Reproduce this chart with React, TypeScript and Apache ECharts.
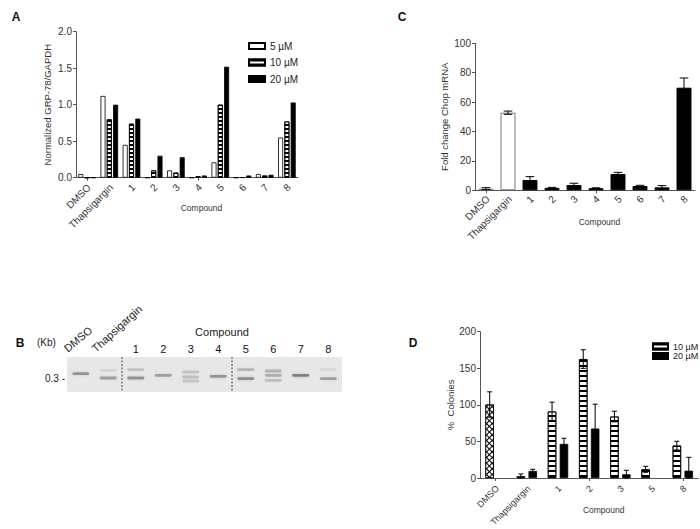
import React, { useEffect, useRef } from "react";
import * as echarts from "echarts";

// ---------- Panel A: GRP-78 / GAPDH ----------
const categoriesA = ["DMSO", "Thapsigargin", "1", "2", "3", "4", "5", "6", "7", "8"];
const grpA5uM = [0.05, 1.12, 0.45, 0, 0.1, 0, 0.21, 0, 0.05, 0.55];
const grpA10uM = [0, 0.8, 0.74, 0.1, 0.07, 0.02, 1.0, 0.005, 0.03, 0.77];
const grpA20uM = [0, 1.0, 0.81, 0.3, 0.28, 0.03, 1.52, 0.03, 0.04, 1.03];
const legendA = ["5 µM", "10 µM", "20 µM"];

// ---------- Panel C: Chop mRNA ----------
const categoriesC = ["DMSO", "Thapsigargin", "1", "2", "3", "4", "5", "6", "7", "8"];
const chopMean = [1.1, 52.8, 7.0, 1.6, 3.6, 1.4, 11.1, 2.9, 2.0, 69.8];
const chopErr = [0.7, 1.1, 2.3, 0.4, 1.2, 0.3, 1.1, 0.5, 1.2, 6.6];

// ---------- Panel D: % Colonies ----------
const categoriesD = ["DMSO", "Thapsigargin", "1", "2", "3", "5", "8"];
const colonies10 = [100.5, 2.3, 90.9, 162.6, 84.0, 11.9, 44.3];
const colonies10Err = [17.3, 3.2, 12.8, 12.7, 7.3, 4.1, 5.9];
const colonies20: (number | null)[] = [null, 9.6, 46.6, 67.6, 5.0, null, 10.0];
const colonies20Err: (number | null)[] = [null, 2.3, 7.7, 33.3, 5.5, null, 18.3];
const legendD = ["10 µM", "20 µM"];

// ---------- Panel B: RT-PCR gel ----------
const gelLanes = ["DMSO", "Thapsigargin", "1", "2", "3", "4", "5", "6", "7", "8"];
// band: lane index, migration distance (arbitrary units from well), intensity
const gelBandLane = [0, 1, 1, 2, 2, 3, 4, 4, 4, 5, 6, 6, 7, 7, 7, 8, 9, 9];
const gelBandPos = [16.6, 13.3, 21.0, 12.6, 21.0, 18.3, 15.0, 20.0, 24.0, 19.3, 12.6, 21.6, 14.0, 18.3, 23.3, 18.3, 12.6, 21.6];
const gelBandIntensity = [0.62, 0.16, 0.55, 0.3, 0.65, 0.55, 0.3, 0.3, 0.25, 0.65, 0.4, 0.7, 0.42, 0.45, 0.35, 0.8, 0.12, 0.55];
const gelDividersBefore = [2, 6];

const FONT = "'Liberation Sans', Arial, Helvetica, sans-serif";
const AXIS = "#555";
const TXT = "#333";

function yAxisDef(grid: number, min: number, max: number, interval: number, name: string, nameGap: number, dec: number) {
  return {
    type: "value", gridIndex: grid, min, max, interval, name,
    nameLocation: "middle", nameGap, nameRotate: 90, nameMoveOverlap: false,
    nameTextStyle: { fontSize: 9.5, color: TXT, fontFamily: FONT },
    axisLine: { show: true, lineStyle: { color: AXIS, width: 1 } },
    axisTick: { show: true, length: 3, lineStyle: { color: AXIS } },
    splitLine: { show: false },
    axisLabel: { fontSize: 10, color: TXT, fontFamily: FONT, margin: 4, formatter: (v: number) => v.toFixed(dec) },
  };
}

function xAxisDef(grid: number, data: string[], nameGap: number) {
  return {
    type: "category", gridIndex: grid, data, name: "Compound",
    nameLocation: "middle", nameGap, nameMoveOverlap: false,
    nameTextStyle: { fontSize: 8.5, color: TXT, fontFamily: FONT, padding: [0, 0, 0, 29] },
    axisLine: { show: true, onZero: false, lineStyle: { color: AXIS, width: 1 } },
    axisTick: { show: true, alignWithLabel: true, length: 3, lineStyle: { color: AXIS } },
    axisLabel: { show: false },
    splitLine: { show: false },
  };
}

// rotated (45°) category labels drawn through the category scale
function categoryLabels(grid: number, cats: string[], dy: number, size: number) {
  return {
    type: "custom", name: "labels" + grid, xAxisIndex: grid, yAxisIndex: grid, z: 6, silent: true,
    encode: { x: 0, y: 1 },
    data: cats.map((_c, i) => [i, 0]),
    renderItem: (p: any, api: any) => {
      const c = api.coord([api.value(0), 0]);
      return {
        type: "text", x: c[0] + 2, y: c[1] + dy, rotation: Math.PI / 4,
        style: { text: cats[p.dataIndex], fontSize: size, fill: TXT, fontFamily: FONT, align: "right", verticalAlign: "middle" },
      };
    },
  };
}

function errorBars(offset: number, capHalf: number) {
  return (_p: any, api: any) => {
    const idx = api.value(0);
    const v = api.value(1);
    const e = api.value(2);
    if (isNaN(v) || isNaN(e) || !e) return null;
    const base = api.coord([idx, v]);
    const top = api.coord([idx, v + e]);
    const bot = api.coord([idx, Math.max(v - e, 0)]);
    const x = base[0] + offset;
    const st = { stroke: "#000", lineWidth: 1 };
    return {
      type: "group",
      children: [
        { type: "line", shape: { x1: x, y1: top[1], x2: x, y2: bot[1] }, style: st },
        { type: "line", shape: { x1: x - capHalf, y1: top[1], x2: x + capHalf, y2: top[1] }, style: st },
        { type: "line", shape: { x1: x - capHalf, y1: bot[1], x2: x + capHalf, y2: bot[1] }, style: st },
      ],
    };
  };
}

export default function App() {
  const ref = useRef<HTMLDivElement>(null);
  useEffect(() => {
    if (!ref.current) return;
    const chart = echarts.init(ref.current, undefined, { renderer: "svg" });

    const stripeA = { symbol: "rect", symbolSize: 1, color: "#000", dashArrayX: [1, 0], dashArrayY: [2, 2], rotation: 0 };
    const stripeD = { symbol: "rect", symbolSize: 1, color: "#000", dashArrayX: [1, 0], dashArrayY: [2, 3], rotation: 0 };
    const crossHatch = { symbol: "rect", symbolSize: 1, color: "#fff", dashArrayX: [3, 1], dashArrayY: [3, 1], rotation: Math.PI / 4 };

    const barWD = 8.5;
    const gapD = 0.4;
    const offD = (barWD * (1 + gapD)) / 2;

    const txt = (x: number, y: number, text: string, size: number, extra: any = {}, rot = 0) => ({
      type: "text", x, y, rotation: rot,
      style: { text, fontSize: size, fill: "#222", fontFamily: FONT, align: "left", verticalAlign: "middle", ...extra },
    });

    const option: any = {
      animation: false,
      backgroundColor: "#fff",
      textStyle: { fontFamily: FONT },
      grid: [
        { left: 76, top: 31.7, width: 222, height: 146 },
        { left: 475, top: 43.3, width: 220, height: 147 },
        { left: 480, top: 331.7, width: 218.4, height: 146.3 },
        { left: 67, top: 357, width: 275, height: 35, show: true, backgroundColor: "#e7e7e7", borderWidth: 0 },
      ],
      xAxis: [
        xAxisDef(0, categoriesA, 26),
        xAxisDef(1, categoriesC, 27),
        xAxisDef(2, categoriesD, 27),
        {
          type: "category", gridIndex: 3, data: gelLanes, position: "top",
          axisLine: { show: false }, axisTick: { show: false }, splitLine: { show: false },
          axisLabel: {
            interval: 0, fontSize: 11, color: "#111", fontFamily: FONT, margin: 3,
            formatter: (v: string) => (/^\d+$/.test(v) ? v : ""),
          },
        },
      ],
      yAxis: [
        yAxisDef(0, 0, 2, 0.5, "Normalized GRP-78/GAPDH", 24, 1),
        yAxisDef(1, 0, 100, 20, "Fold change Chop mRNA", 26, 0),
        yAxisDef(2, 0, 200, 50, "%  Colonies", 25, 0),
        { type: "value", gridIndex: 3, min: 0, max: 35, inverse: true, show: false },
      ],
      legend: [
        {
          data: legendA, orient: "vertical", left: 243, top: 35, itemWidth: 16, itemHeight: 6, itemGap: 4.5,
          icon: "rect", selectedMode: false,
          textStyle: { fontSize: 10, fontWeight: "normal", color: "#222", fontFamily: FONT, lineHeight: 12 },
        },
        {
          data: legendD, orient: "vertical", left: 647, top: 337, itemWidth: 15, itemHeight: 6, itemGap: 0.5,
          icon: "rect", selectedMode: false,
          textStyle: { fontSize: 9, fontWeight: "normal", color: "#222", fontFamily: FONT, lineHeight: 9 },
        },
      ],
      series: [
        // Panel A
        {
          type: "bar", name: legendA[0], xAxisIndex: 0, yAxisIndex: 0, data: grpA5uM,
          barWidth: 5, barGap: "26%",
          itemStyle: { color: "#fff", borderColor: "#000", borderWidth: 0.8 },
        },
        {
          type: "bar", name: legendA[1], xAxisIndex: 0, yAxisIndex: 0, data: grpA10uM,
          barWidth: 5, barGap: "26%",
          itemStyle: { color: "#fff", borderColor: "#000", borderWidth: 0.8, decal: stripeA },
        },
        {
          type: "bar", name: legendA[2], xAxisIndex: 0, yAxisIndex: 0, data: grpA20uM,
          barWidth: 5, barGap: "26%",
          itemStyle: { color: "#000", borderColor: "#000", borderWidth: 0.8 },
        },
        categoryLabels(0, categoriesA, 8, 10),
        // Panel C
        {
          type: "bar", name: "Chop", xAxisIndex: 1, yAxisIndex: 1, barWidth: "68%",
          data: chopMean.map((v, i) => {
            const ctrl = categoriesC[i] === "DMSO" || categoriesC[i] === "Thapsigargin";
            return {
              value: v,
              itemStyle: ctrl
                ? { color: categoriesC[i] === "DMSO" ? "#f2f2f2" : "#fff", borderColor: "#777", borderWidth: 1 }
                : { color: "#000", borderColor: "#000", borderWidth: 1 },
            };
          }),
        },
        {
          type: "custom", name: "Chop err", xAxisIndex: 1, yAxisIndex: 1, z: 5,
          renderItem: errorBars(0, 4.3),
          encode: { x: 0, y: 1 },
          data: chopMean.map((v, i) => [i, v, chopErr[i]]),
        },
        categoryLabels(1, categoriesC, 7, 10),
        // Panel D
        {
          type: "bar", name: legendD[0], xAxisIndex: 2, yAxisIndex: 2, barWidth: barWD, barGap: "40%",
          itemStyle: { color: "#fff", borderColor: "#000", borderWidth: 0.8, decal: stripeD },
          data: colonies10.map((v, i) =>
            categoriesD[i] === "DMSO"
              ? { value: v, itemStyle: { color: "#000", borderColor: "#000", borderWidth: 0.8, decal: crossHatch } }
              : v
          ),
        },
        {
          type: "bar", name: legendD[1], xAxisIndex: 2, yAxisIndex: 2, barWidth: barWD, barGap: "40%",
          itemStyle: { color: "#000", borderColor: "#000", borderWidth: 0.8 },
          data: colonies20.map((v) => (v == null ? "-" : v)),
        },
        {
          type: "custom", name: "D err 10", xAxisIndex: 2, yAxisIndex: 2, z: 5,
          renderItem: errorBars(-offD, 2.5), encode: { x: 0, y: 1 },
          data: colonies10.map((v, i) => [i, v, colonies10Err[i]]),
        },
        {
          type: "custom", name: "D err 20", xAxisIndex: 2, yAxisIndex: 2, z: 5,
          renderItem: errorBars(offD, 2.5), encode: { x: 0, y: 1 },
          data: colonies20.map((v, i) => [i, v == null ? NaN : v, colonies20Err[i] == null ? NaN : (colonies20Err[i] as number)]),
        },
        categoryLabels(2, categoriesD, 9, 9),
        // Panel B gel
        {
          type: "custom", name: "gel bands", xAxisIndex: 3, yAxisIndex: 3, z: 3,
          encode: { x: 0, y: 1 },
          data: gelBandLane.map((l, i) => [l, gelBandPos[i], gelBandIntensity[i]]),
          renderItem: (_p: any, api: any) => {
            const c = api.coord([api.value(0), api.value(1)]);
            const w = api.size([1, 0])[0] * 0.62;
            const a = api.value(2) * 0.62;
            const col = `rgba(45,45,45,${a})`;
            return {
              type: "rect",
              shape: { x: c[0] - w / 2, y: c[1] - 1.4, width: w, height: 2.8, r: 1.4 },
              style: { fill: col, shadowBlur: 3, shadowColor: `rgba(45,45,45,${a * 0.9})` },
            };
          },
        },
        {
          type: "custom", name: "gel dividers", xAxisIndex: 3, yAxisIndex: 3, z: 4,
          encode: { x: 0 },
          data: gelDividersBefore.map((d) => [d, 0]),
          renderItem: (_p: any, api: any) => {
            const half = api.size([1, 0])[0] / 2;
            const t = api.coord([api.value(0), 0]);
            const b = api.coord([api.value(0), 35]);
            return {
              type: "line",
              shape: { x1: t[0] - half, y1: t[1], x2: t[0] - half, y2: b[1] },
              style: { stroke: "#222", lineWidth: 0.8, lineDash: [2, 1.5] },
            };
          },
        },
      ],
      graphic: [
        txt(16, 17, "A", 12, { fontWeight: "bold", fill: "#111", align: "center" }),
        txt(402, 17, "C", 12, { fontWeight: "bold", fill: "#111", align: "center" }),
        txt(20, 343, "B", 12, { fontWeight: "bold", fill: "#111", align: "center" }),
        txt(413, 343, "D", 12, { fontWeight: "bold", fill: "#111", align: "center" }),
        txt(37, 342, "(Kb)", 10),
        txt(65, 378, "0.3 -", 10, { align: "right" }),
        txt(222, 332, "Compound", 11, { align: "center" }),
        txt(69, 354, "DMSO", 11, { verticalAlign: "bottom" }, 0.7),
        txt(97, 354, "Thapsigargin", 11, { verticalAlign: "bottom" }, 0.74),
      ],
    };

    chart.setOption(option);
    return () => chart.dispose();
  }, []);

  return <div ref={ref} style={{ position: "absolute", left: 0, top: 0, width: 700, height: 529 }} />;
}
